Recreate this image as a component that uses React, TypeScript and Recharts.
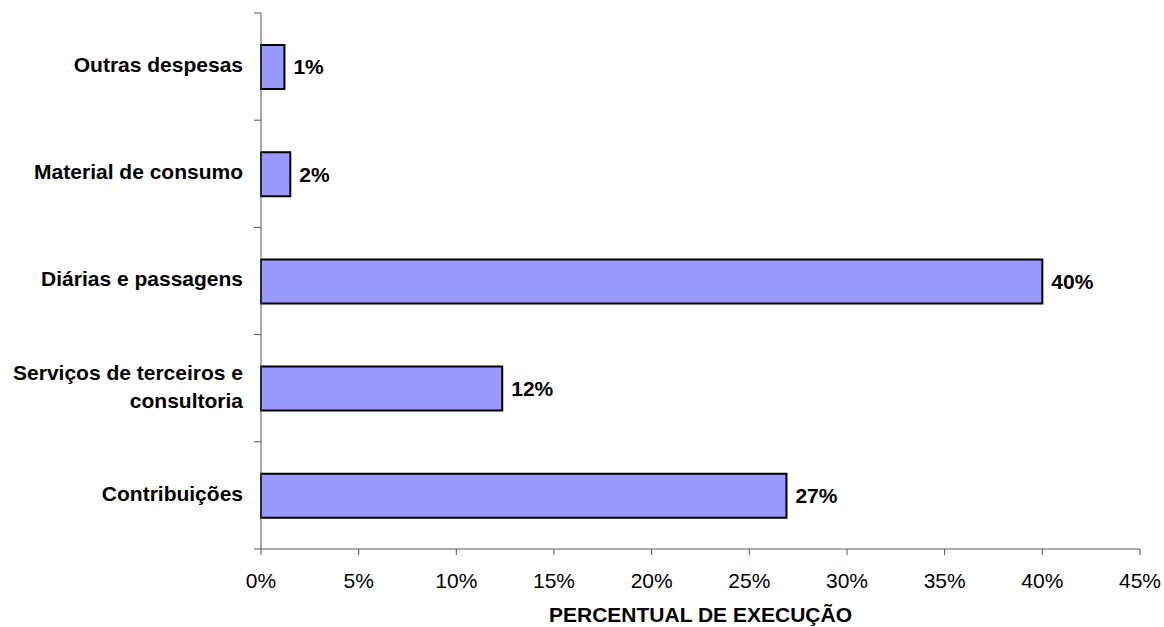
import { Bar, BarChart, LabelList, Text, XAxis, YAxis } from "recharts";

const categories = [
  "Outras despesas",
  "Material de consumo",
  "Diárias e passagens",
  "Serviços de terceiros e consultoria",
  "Contribuições",
];
const execution = [1.2, 1.5, 40.0, 12.35, 26.9];
const xTicks = [0, 5, 10, 15, 20, 25, 30, 35, 40, 45];

const data = categories.map((name, i) => ({ name, value: execution[i] }));

const FONT = "'Liberation Sans', Arial, sans-serif";
const AXIS = "#555";
const W = 1164;
const H = 627;
const MARGIN = { top: 13, right: 24, bottom: 0, left: 0 };
const Y_AXIS_W = 261;
const X_AXIS_H = 78;
const BAND = (H - MARGIN.top - MARGIN.bottom - X_AXIS_H) / categories.length;
const PLOT_LEFT = MARGIN.left + Y_AXIS_W;

// label plus the tick marks that sit on the category boundaries
function CategoryTick(props: any) {
  const { x, y, payload, index } = props;
  const last = index === categories.length - 1;
  return (
    <g>
      <line x1={PLOT_LEFT - 7} x2={PLOT_LEFT} y1={y - BAND / 2} y2={y - BAND / 2} stroke={AXIS} />
      {last && (
        <line x1={PLOT_LEFT - 7} x2={PLOT_LEFT} y1={y + BAND / 2} y2={y + BAND / 2} stroke={AXIS} />
      )}
      <Text
        x={x}
        y={y - 2}
        textAnchor="end"
        verticalAnchor="middle"
        width={245}
        lineHeight="1.33em"
        style={{ fontFamily: FONT, fontSize: 21, fontWeight: 700 }}
        fill="#000"
      >
        {payload.value}
      </Text>
    </g>
  );
}

export default function App() {
  return (
    <div style={{ position: "absolute", left: 0, top: 0, background: "#fff" }}>
      <BarChart
        width={W}
        height={H}
        data={data}
        layout="vertical"
        margin={MARGIN}
        barCategoryGap={0}
      >
        <XAxis
          type="number"
          domain={[0, 45]}
          ticks={xTicks}
          interval={0}
          tickFormatter={(v) => `${v}%`}
          height={X_AXIS_H}
          stroke={AXIS}
          tickSize={6}
          tickMargin={18}
          tick={{ fill: "#000", fontSize: 21, fontFamily: FONT }}
          label={{
            value: "PERCENTUAL DE EXECUÇÃO",
            position: "insideBottom",
            offset: 5,
            fill: "#000",
            fontSize: 21,
            fontWeight: 700,
            fontFamily: FONT,
          }}
        />
        <YAxis
          type="category"
          dataKey="name"
          width={Y_AXIS_W}
          stroke={AXIS}
          tickLine={false}
          tickSize={0}
          tickMargin={18}
          interval={0}
          tick={<CategoryTick />}
        />
        <Bar
          dataKey="value"
          barSize={44}
          fill="#9999FF"
          stroke="#000"
          strokeWidth={2}
          isAnimationActive={false}
        >
          <LabelList
            dataKey="value"
            position="right"
            offset={9}
            formatter={(v: any) => `${Math.round(Number(v))}%`}
            fill="#000"
            style={{ fontFamily: FONT, fontSize: 21, fontWeight: 700 }}
          />
        </Bar>
      </BarChart>
    </div>
  );
}
